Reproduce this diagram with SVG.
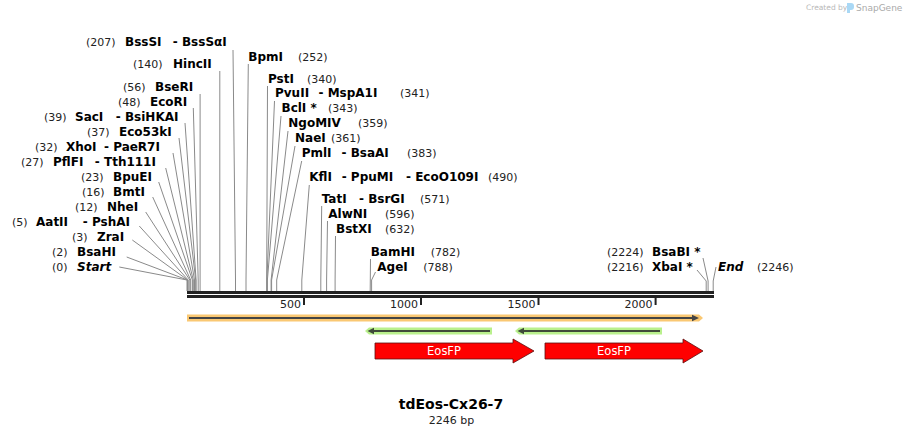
<svg xmlns="http://www.w3.org/2000/svg" width="903" height="436" viewBox="0 0 903 436">
<style>
text{font-family:"DejaVu Sans","Liberation Sans",sans-serif;}
.n{font-size:12px;font-weight:bold;fill:#000;}
.i{font-style:italic;}
.p{font-size:11px;fill:#222;}
.ld{fill:none;stroke:#8a8a8a;stroke-width:1;}
.tk{font-size:11px;fill:#222;text-anchor:end;}
.ft{font-size:11.5px;fill:#fff;text-anchor:middle;}
</style>
<rect width="903" height="436" fill="#fff"/>
<g id="logo">
<text x="806" y="10" style="font-size:7.5px;fill:#b8b8b8">Created by</text>
<path d="M847,3 h4 a3,3 0 0 1 3,3 v1 a3,3 0 0 1 -3,3 h-1 v3 h-3 z" fill="#a9d8f5"/>
<text x="856" y="11" style="font-size:9px;fill:#aaa">SnapGene</text>
</g>
<g id="connectors">
<polyline class="ld" points="233,50 235.5,280 235.5,291"/>
<polyline class="ld" points="219.8,71 219.8,291"/>
<polyline class="ld" points="200.1,94 200.1,291"/>
<polyline class="ld" points="193.3,108 198.2,280 198.2,291"/>
<polyline class="ld" points="185,123 196.1,280 196.1,291"/>
<polyline class="ld" points="179,138 195.7,280 195.7,291"/>
<polyline class="ld" points="173,153 194.5,280 194.5,291"/>
<polyline class="ld" points="165.7,168 193.3,280 193.3,291"/>
<polyline class="ld" points="158.7,182 192.4,280 192.4,291"/>
<polyline class="ld" points="152.7,197 190.7,280 190.7,291"/>
<polyline class="ld" points="145.7,212 189.8,280 189.8,291"/>
<polyline class="ld" points="139.3,226 188.2,280 188.2,291"/>
<polyline class="ld" points="132.3,240 187.7,280 187.7,291"/>
<polyline class="ld" points="126.7,257 187.5,280 187.5,291"/>
<polyline class="ld" points="119.3,267 187,280 187,291"/>
<polyline class="ld" points="248.3,64 246,280 246,291"/>
<polyline class="ld" points="267.5,86 266.7,280 266.7,291"/>
<polyline class="ld" points="274.5,101 266.9,280 266.9,291"/>
<polyline class="ld" points="281,116 267.4,280 267.4,291"/>
<polyline class="ld" points="288,131 271.1,280 271.1,291"/>
<polyline class="ld" points="295,146 271.6,280 271.6,291"/>
<polyline class="ld" points="301.7,161 276.7,280 276.7,291"/>
<polyline class="ld" points="309.3,185 301.8,280 301.8,291"/>
<polyline class="ld" points="321.7,206 320.8,280 320.8,291"/>
<polyline class="ld" points="327.5,221 326.6,280 326.6,291"/>
<polyline class="ld" points="335.5,236 335.1,280 335.1,291"/>
<polyline class="ld" points="370.5,259 370.2,291"/>
<polyline class="ld" points="375.5,272 371.6,280 371.6,291"/>
<polyline class="ld" points="703,258 708.1,281 708.1,291"/>
<polyline class="ld" points="697,270 706.2,281 706.2,291"/>
<polyline class="ld" points="716,267 713.2,281 713.2,291"/>
</g>
<g id="backbone">
<rect x="187" y="291" width="527" height="3" fill="#222"/>
<rect x="187" y="295" width="527" height="3" fill="#222"/>
<rect x="303" y="297" width="2" height="8" fill="#222"/>
<rect x="420" y="297" width="2" height="8" fill="#222"/>
<rect x="537.5" y="297" width="2" height="8" fill="#222"/>
<rect x="654.6" y="297" width="2" height="8" fill="#222"/>
<text class="tk" x="301" y="308">500</text>
<text class="tk" x="418" y="308">1000</text>
<text class="tk" x="535.5" y="308">1500</text>
<text class="tk" x="652.6" y="308">2000</text>
</g>
<g id="feature-orange">
<polygon points="187,314.5 699,314.5 703,318 699,321.5 187,321.5" fill="#fac873"/>
<line x1="189" y1="318" x2="693" y2="318" stroke="#444" stroke-width="2"/>
<polygon points="692,314.8 699,318 692,321.2" fill="#444"/>
</g>
<g id="feature-green-1">
<polygon points="365,331 369,327.5 492,327.5 492,334.5 369,334.5" fill="#b9f08c"/>
<line x1="372" y1="331" x2="490" y2="331" stroke="#3f4a3a" stroke-width="2"/>
<polygon points="367.5,331 374,327.8 374,334.2" fill="#3f4a3a"/>
</g>
<g id="feature-green-2">
<polygon points="515,331 519,327.5 662,327.5 662,334.5 519,334.5" fill="#b9f08c"/>
<line x1="522" y1="331" x2="660" y2="331" stroke="#3f4a3a" stroke-width="2"/>
<polygon points="517.5,331 524,327.8 524,334.2" fill="#3f4a3a"/>
</g>
<g id="EosFP-1">
<polygon points="375,343 513,343 513,339 534,351 513,363 513,359 375,359" fill="#ff0000" stroke="#5a1010" stroke-width="0.8"/>
<text class="ft" x="444" y="355">EosFP</text>
</g>
<g id="EosFP-2">
<polygon points="545,343 683,343 683,339 703,351 683,363 683,359 545,359" fill="#ff0000" stroke="#5a1010" stroke-width="0.8"/>
<text class="ft" x="614" y="355">EosFP</text>
</g>
<g id="BssSI"><text class="p" x="86" y="46">(207)</text><text class="n" x="125" y="46">BssSI</text><text class="n" x="172.8" y="46">- BssSαI</text></g>
<g id="HincII"><text class="p" x="133" y="68">(140)</text><text class="n" x="173" y="68">HincII</text></g>
<g id="BseRI"><text class="p" x="123" y="91">(56)</text><text class="n" x="155" y="91">BseRI</text></g>
<g id="EcoRI"><text class="p" x="118" y="106">(48)</text><text class="n" x="150" y="106">EcoRI</text></g>
<g id="SacI"><text class="p" x="44" y="121">(39)</text><text class="n" x="75" y="121">SacI</text><text class="n" x="115.8" y="121">- BsiHKAI</text></g>
<g id="Eco53kI"><text class="p" x="87" y="136">(37)</text><text class="n" x="119" y="136">Eco53kI</text></g>
<g id="XhoI"><text class="p" x="35" y="151">(32)</text><text class="n" x="66" y="151">XhoI</text><text class="n" x="104" y="151">- PaeR7I</text></g>
<g id="PflFI"><text class="p" x="21" y="166">(27)</text><text class="n" x="53" y="166">PflFI</text><text class="n" x="94.8" y="166">- Tth111I</text></g>
<g id="BpuEI"><text class="p" x="81" y="181">(23)</text><text class="n" x="113" y="181">BpuEI</text></g>
<g id="BmtI"><text class="p" x="82" y="196">(16)</text><text class="n" x="113" y="196">BmtI</text></g>
<g id="NheI"><text class="p" x="75" y="211">(12)</text><text class="n" x="107" y="211">NheI</text></g>
<g id="AatII"><text class="p" x="12" y="226">(5)</text><text class="n" x="36" y="226">AatII</text><text class="n" x="82.8" y="226">- PshAI</text></g>
<g id="ZraI"><text class="p" x="72" y="241">(3)</text><text class="n" x="97" y="241">ZraI</text></g>
<g id="BsaHI"><text class="p" x="52" y="256">(2)</text><text class="n" x="77" y="256">BsaHI</text></g>
<g id="Start"><text class="p" x="52" y="271">(0)</text><text class="n i" x="77" y="271">Start</text></g>
<g id="BpmI"><text class="n" x="248.3" y="61">BpmI</text><text class="p" x="298" y="61">(252)</text></g>
<g id="PstI"><text class="n" x="268" y="82.5">PstI</text><text class="p" x="307" y="82.5">(340)</text></g>
<g id="PvuII"><text class="n" x="275" y="97">PvuII</text><text class="n" x="318.5" y="97">- MspA1I</text><text class="p" x="400" y="97">(341)</text></g>
<g id="BclI"><text class="n" x="281.5" y="112">BclI *</text><text class="p" x="328" y="112">(343)</text></g>
<g id="NgoMIV"><text class="n" x="288.3" y="127">NgoMIV</text><text class="p" x="358" y="127">(359)</text></g>
<g id="NaeI"><text class="n" x="295" y="142">NaeI</text><text class="p" x="331" y="142">(361)</text></g>
<g id="PmlI"><text class="n" x="301.7" y="157">PmlI</text><text class="n" x="341.5" y="157">- BsaAI</text><text class="p" x="407" y="157">(383)</text></g>
<g id="KflI"><text class="n" x="309.3" y="181">KflI</text><text class="n" x="341.7" y="181">- PpuMI</text><text class="n" x="406" y="181">- EcoO109I</text><text class="p" x="488" y="181">(490)</text></g>
<g id="TatI"><text class="n" x="321.7" y="203">TatI</text><text class="n" x="359" y="203">- BsrGI</text><text class="p" x="420" y="203">(571)</text></g>
<g id="AlwNI"><text class="n" x="328.3" y="218">AlwNI</text><text class="p" x="385" y="218">(596)</text></g>
<g id="BstXI"><text class="n" x="336" y="233">BstXI</text><text class="p" x="385" y="233">(632)</text></g>
<g id="BamHI"><text class="n" x="370.7" y="256">BamHI</text><text class="p" x="430.7" y="256">(782)</text></g>
<g id="AgeI"><text class="n" x="377.3" y="271">AgeI</text><text class="p" x="423.3" y="271">(788)</text></g>
<g id="BsaBI"><text class="p" x="607" y="256">(2224)</text><text class="n" x="652" y="256">BsaBI *</text></g>
<g id="XbaI"><text class="p" x="607" y="271">(2216)</text><text class="n" x="652" y="271">XbaI *</text></g>
<g id="End"><text class="n i" x="718" y="271">End</text><text class="p" x="757" y="271">(2246)</text></g>
<g id="title">
<text x="451" y="409" style="font-size:14px;font-weight:bold;fill:#000;text-anchor:middle">tdEos-Cx26-7</text>
<text x="451.5" y="424" style="font-size:11px;fill:#222;text-anchor:middle">2246 bp</text>
</g>
</svg>
